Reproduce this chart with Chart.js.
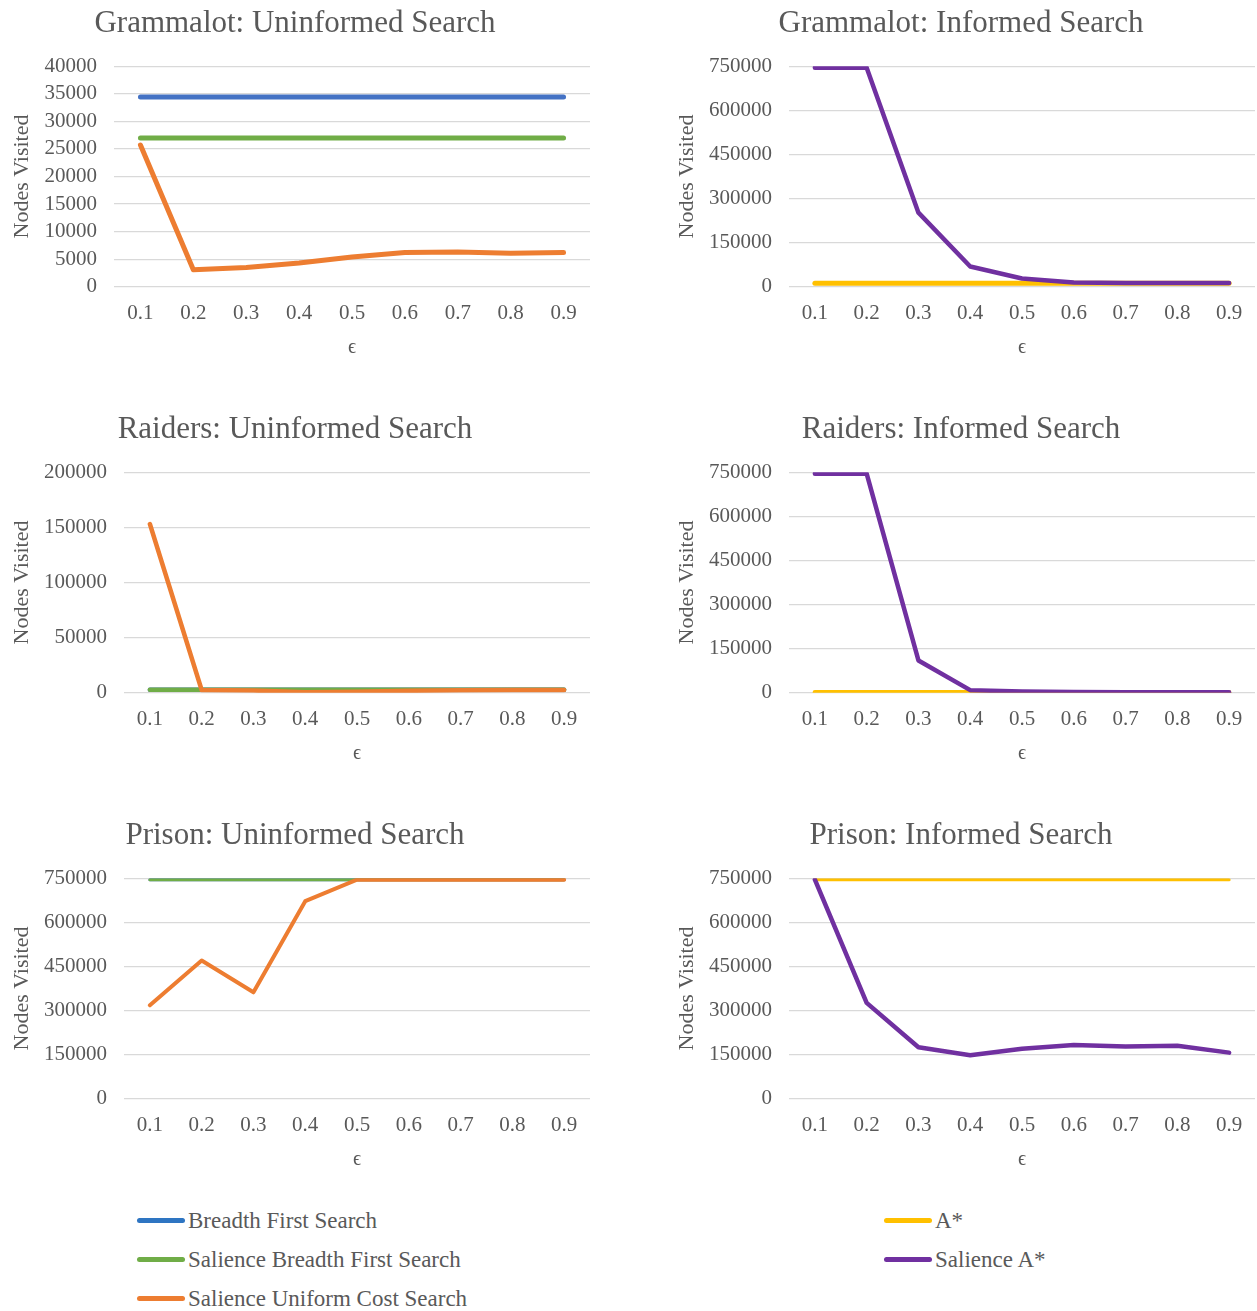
<!DOCTYPE html>
<html>
<head>
<meta charset="utf-8">
<title>Nodes visited vs epsilon</title>
<script src="https://cdn.jsdelivr.net/npm/chart.js@4.4.1/dist/chart.umd.min.js"></script>
<style>
  body { margin: 0; background: #fff; }
  #page { position: relative; width: 1257px; height: 1311px; overflow: hidden; }
  canvas { position: absolute; }
  .legend { position: absolute; font-family: 'Liberation Serif', serif; font-size: 23px; color: #595959; }
  .legend .row { position: absolute; white-space: nowrap; height: 26px; line-height: 26px; }
  .legend .swatch { position: absolute; left: 0; top: 10px; width: 48px; height: 5px; border-radius: 3px; }
  .legend .label { position: absolute; left: 51px; top: 0; }
</style>
</head>
<body>
<div id="page">
  <canvas id="c1" width="594" height="362" style="left:0px;top:0px"></canvas>
  <canvas id="c2" width="590" height="362" style="left:667px;top:0px"></canvas>
  <canvas id="c3" width="594" height="362" style="left:0px;top:406px"></canvas>
  <canvas id="c4" width="590" height="362" style="left:667px;top:406px"></canvas>
  <canvas id="c5" width="594" height="362" style="left:0px;top:812px"></canvas>
  <canvas id="c6" width="590" height="362" style="left:667px;top:812px"></canvas>
  <div class="legend" id="legendLeft" style="left:137px;top:1208px"></div>
  <div class="legend" id="legendRight" style="left:884px;top:1208px"></div>
</div>
<script>
// epsilon values on the x axis
const epsilons = ['0.1', '0.2', '0.3', '0.4', '0.5', '0.6', '0.7', '0.8', '0.9'];

// Grammalot
const grammalotBfs = [34400, 34400, 34400, 34400, 34400, 34400, 34400, 34400, 34400];
const grammalotSalienceBfs = [27000, 27000, 27000, 27000, 27000, 27000, 27000, 27000, 27000];
const grammalotSalienceUcs = [25700, 3100, 3500, 4300, 5400, 6200, 6300, 6100, 6200];
const grammalotAStar = [12000, 12000, 12000, 12000, 12000, 12000, 12000, 12000, 12000];
const grammalotSalienceAStar = [745000, 745000, 252000, 69000, 28000, 15000, 13000, 13000, 13000];

// Raiders
const raidersBfs = [2800, 2800, 2800, 2800, 2800, 2800, 2800, 2800, 2800];
const raidersSalienceBfs = [2800, 2800, 2800, 2800, 2800, 2800, 2800, 2800, 2800];
const raidersSalienceUcs = [153000, 2500, 2000, 500, 1000, 1800, 2300, 2500, 2500];
const raidersAStar = [1500, 1500, 1500, 1500, 1500, 1500, 1500, 1500, 1500];
const raidersSalienceAStar = [745000, 745000, 110000, 9000, 4000, 2500, 2000, 2000, 2000];

// Prison
const prisonBfs = [745000, 745000, 745000, 745000, 745000, 745000, 745000, 745000, 745000];
const prisonSalienceBfs = [745000, 745000, 745000, 745000, 745000, 745000, 745000, 745000, 745000];
const prisonSalienceUcs = [318000, 470000, 362000, 672000, 745000, 745000, 745000, 745000, 745000];
const prisonAStar = [745000, 745000, 745000, 745000, 745000, 745000, 745000, 745000, 745000];
const prisonSalienceAStar = [745000, 326000, 175000, 148000, 170000, 183000, 178000, 180000, 157000];

const uninformedNames = ['Breadth First Search', 'Salience Breadth First Search', 'Salience Uniform Cost Search'];
const informedNames = ['A*', 'Salience A*'];

const colors = {
    blue: '#4472C4',
    green: '#70AD47',
    orange: '#ED7D31',
    yellow: '#FFC000',
    purple: '#7030A0'
};
const textColor = '#595959';
const fontFamily = "'Liberation Serif', 'Times New Roman', serif";

// later series are painted on top, like the original
const line = (label, data, color, width, order) => ({
    label: label,
    data: data,
    borderColor: color,
    backgroundColor: color,
    borderWidth: width,
    borderCapStyle: 'round',
    borderJoinStyle: 'round',
    pointRadius: 0,
    fill: false,
    tension: 0,
    order: order
});

const makeChart = (id, title, datasets, yMax, yStep, plotLeft, yTitlePad, padRight) => {
    const ctx = document.getElementById(id).getContext('2d');
    return new Chart(ctx, {
        type: 'line',
        data: { labels: epsilons, datasets: datasets },
        options: {
            responsive: false,
            animation: false,
            devicePixelRatio: 1,
            layout: { padding: { left: 0, right: padRight, top: 0, bottom: 2 } },
            plugins: {
                legend: { display: false },
                tooltip: { enabled: false },
                title: {
                    display: true,
                    text: title,
                    color: textColor,
                    font: { family: fontFamily, size: 31, weight: 'normal' },
                    padding: { top: 5, bottom: 24 }
                }
            },
            scales: {
                x: {
                    offset: true,
                    grid: { display: false, drawTicks: false },
                    border: { display: false },
                    ticks: {
                        color: textColor,
                        padding: 14,
                        maxRotation: 0,
                        autoSkip: false,
                        font: { family: fontFamily, size: 21 }
                    },
                    title: {
                        display: true,
                        text: 'ϵ',
                        color: textColor,
                        padding: { top: -4, bottom: 0 },
                        font: { family: fontFamily, size: 20 }
                    }
                },
                y: {
                    min: 0,
                    max: yMax,
                    afterFit: (scale) => { scale.width = plotLeft; },
                    grid: { color: '#D9D9D9', lineWidth: 1.3, drawTicks: false },
                    border: { display: false },
                    ticks: {
                        stepSize: yStep,
                        autoSkip: false,
                        color: textColor,
                        padding: 17,
                        font: { family: fontFamily, size: 21 },
                        callback: (value) => String(value)
                    },
                    title: {
                        display: true,
                        text: 'Nodes Visited',
                        color: textColor,
                        padding: { top: yTitlePad, bottom: 0 },
                        font: { family: fontFamily, size: 22 }
                    }
                }
            }
        }
    });
};

makeChart('c1', 'Grammalot: Uninformed Search', [
    line(uninformedNames[0], grammalotBfs, colors.blue, 5, 3),
    line(uninformedNames[1], grammalotSalienceBfs, colors.green, 5, 2),
    line(uninformedNames[2], grammalotSalienceUcs, colors.orange, 5, 1)
], 40000, 5000, 114, 9, 4);

makeChart('c2', 'Grammalot: Informed Search', [
    line(informedNames[0], grammalotAStar, colors.yellow, 5, 2),
    line(informedNames[1], grammalotSalienceAStar, colors.purple, 4.5, 1)
], 750000, 150000, 122, 7, 2);

makeChart('c3', 'Raiders: Uninformed Search', [
    line(uninformedNames[0], raidersBfs, colors.blue, 4.5, 3),
    line(uninformedNames[1], raidersSalienceBfs, colors.green, 4.5, 2),
    line(uninformedNames[2], raidersSalienceUcs, colors.orange, 4.5, 1)
], 200000, 50000, 124, 9, 4);

makeChart('c4', 'Raiders: Informed Search', [
    line(informedNames[0], raidersAStar, colors.yellow, 4.5, 2),
    line(informedNames[1], raidersSalienceAStar, colors.purple, 4.5, 1)
], 750000, 150000, 122, 7, 2);

makeChart('c5', 'Prison: Uninformed Search', [
    line(uninformedNames[0], prisonBfs, colors.blue, 3, 3),
    line(uninformedNames[1], prisonSalienceBfs, colors.green, 3, 2),
    line(uninformedNames[2], prisonSalienceUcs, colors.orange, 4, 1)
], 750000, 150000, 124, 9, 4);

makeChart('c6', 'Prison: Informed Search', [
    line(informedNames[0], prisonAStar, colors.yellow, 3, 2),
    line(informedNames[1], prisonSalienceAStar, colors.purple, 4.5, 1)
], 750000, 150000, 122, 7, 2);

// shared legends below the grid
const buildLegend = (elId, names, swatchColors) => {
    const el = document.getElementById(elId);
    names.forEach((name, i) => {
        const row = document.createElement('div');
        row.className = 'row';
        row.style.top = (i * 39) + 'px';
        const sw = document.createElement('div');
        sw.className = 'swatch';
        sw.style.background = swatchColors[i];
        const lb = document.createElement('div');
        lb.className = 'label';
        lb.textContent = name;
        row.appendChild(sw);
        row.appendChild(lb);
        el.appendChild(row);
    });
};
buildLegend('legendLeft', uninformedNames, ['#2E75C2', colors.green, colors.orange]);
buildLegend('legendRight', informedNames, [colors.yellow, colors.purple]);
</script>
</body>
</html>
